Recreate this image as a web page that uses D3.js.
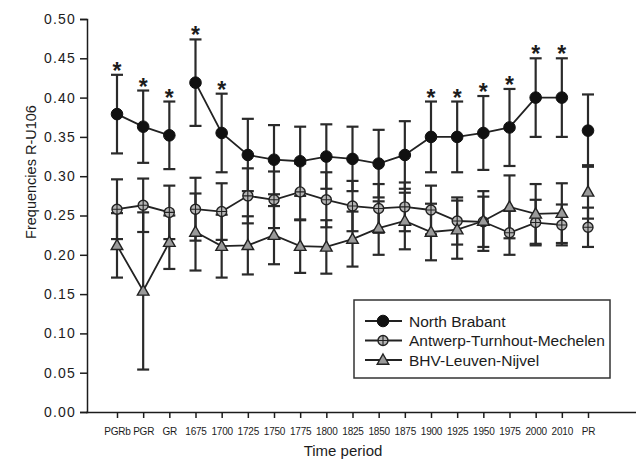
<!DOCTYPE html>
<html>
<head>
<meta charset="utf-8">
<script src="https://cdn.jsdelivr.net/npm/d3@7"></script>
<style>
  body { margin: 0; background: #fff; }
  svg { display: block; }
</style>
</head>
<body>
<div id="chart"></div>
<script>
const categories = ["PGRb", "PGR", "GR", "1675", "1700", "1725", "1750", "1775", "1800", "1825",
    "1850", "1875", "1900", "1925", "1950", "1975", "2000", "2010", "PR"];
// which points are joined by a line
const segments = [0, 0, 0, 1, 1, 1, 1, 1, 1, 1, 1, 1, 1, 1, 1, 1, 1, 1, 2];

const northBrabant = [0.379, 0.363, 0.352, 0.419, 0.355, 0.327, 0.321, 0.319, 0.325, 0.322,
    0.316, 0.327, 0.350, 0.350, 0.355, 0.362, 0.400, 0.400, 0.358];
const northBrabantErr = [0.050, 0.046, 0.043, 0.055, 0.050, 0.046, 0.044, 0.044, 0.041, 0.041,
    0.043, 0.043, 0.045, 0.045, 0.047, 0.049, 0.050, 0.050, 0.046];
const antwerp = [0.258, 0.263, 0.254, 0.258, 0.255, 0.275, 0.270, 0.280, 0.270, 0.262,
    0.259, 0.261, 0.257, 0.243, 0.242, 0.228, 0.241, 0.238, 0.235];
const antwerpErr = [0.038, 0.034, 0.034, 0.040, 0.036, 0.035, 0.036, 0.036, 0.035, 0.032,
    0.031, 0.031, 0.031, 0.030, 0.032, 0.028, 0.029, 0.026, 0.025];
const bhv = [0.212, 0.154, 0.216, 0.229, 0.211, 0.212, 0.225, 0.211, 0.210, 0.220,
    0.234, 0.243, 0.229, 0.232, 0.243, 0.261, 0.252, 0.253, 0.280];
const bhvErr = [0.041, 0.100, 0.034, 0.049, 0.040, 0.037, 0.037, 0.034, 0.034, 0.035,
    0.034, 0.036, 0.036, 0.037, 0.038, 0.040, 0.038, 0.038, 0.034];
// asterisks above North Brabant
const significant = [1, 1, 1, 1, 1, 0, 0, 0, 0, 0, 0, 0, 1, 1, 1, 1, 1, 1, 0];

const yTicks = [0, 0.05, 0.10, 0.15, 0.20, 0.25, 0.30, 0.35, 0.40, 0.45, 0.50];

const seriesNames = ["North Brabant", "Antwerp-Turnhout-Mechelen", "BHV-Leuven-Nijvel"];

const width = 638, height = 463;
const ink = "#1c1c1c";

const svg = d3.select("#chart").append("svg")
    .attr("width", width)
    .attr("height", height);

const x = d3.scalePoint()
    .domain(categories)
    .range([117, 588]);

const y = d3.scaleLinear()
    .domain([0, 0.5])
    .range([412, 19]);

// y axis
const yAxis = svg.append("g")
    .attr("transform", "translate(87,0)")
    .call(d3.axisLeft(y).tickValues(yTicks).tickFormat(d3.format(".2f")).tickSize(7).tickPadding(4));
yAxis.select(".domain").attr("stroke", ink).attr("stroke-width", 1.5);
yAxis.selectAll(".tick line").attr("stroke", ink).attr("stroke-width", 1.5);
yAxis.selectAll(".tick text")
    .attr("fill", ink)
    .style("font-family", "'Liberation Sans', Arial, sans-serif")
    .style("font-size", "14px")
    .style("letter-spacing", "1.2px");

// x axis
svg.append("line")
    .attr("x1", 86).attr("x2", 636)
    .attr("y1", 412.5).attr("y2", 412.5)
    .attr("stroke", ink).attr("stroke-width", 1.5);
const xAxis = svg.append("g")
    .attr("transform", "translate(0,412)")
    .call(d3.axisBottom(x).tickSize(6).tickPadding(10));
xAxis.select(".domain").remove();
xAxis.selectAll(".tick line").attr("stroke", ink).attr("stroke-width", 1.5);
xAxis.selectAll(".tick text")
    .attr("fill", ink)
    .style("font-family", "'Liberation Sans Narrow', 'Arial Narrow', sans-serif")
    .style("font-size", "10px")
    .style("letter-spacing", "-0.2px");

svg.append("text")
    .attr("x", 343).attr("y", 456)
    .attr("text-anchor", "middle")
    .attr("fill", ink)
    .style("font-family", "'Liberation Sans', Arial, sans-serif")
    .style("font-size", "15px")
    .text("Time period");

svg.append("text")
    .attr("transform", "translate(36,172) rotate(-90)")
    .attr("text-anchor", "middle")
    .attr("fill", ink)
    .style("font-family", "'Liberation Sans', Arial, sans-serif")
    .style("font-size", "14.5px")
    .text("Frequencies R-U106");

const series = [
    { name: seriesNames[0], values: northBrabant, err: northBrabantErr, shape: "dot" },
    { name: seriesNames[1], values: antwerp, err: antwerpErr, shape: "cross" },
    { name: seriesNames[2], values: bhv, err: bhvErr, shape: "tri" }
];

function drawMarker(g, shape) {
    if (shape === "dot") {
        g.append("circle").attr("r", 5.8).attr("fill", "#111").attr("stroke", "#111");
    } else if (shape === "cross") {
        g.append("circle").attr("r", 5).attr("fill", "#b5b5b5").attr("stroke", "#222").attr("stroke-width", 1.4);
        g.append("path").attr("d", "M-5,0H5M0,-5V5").attr("stroke", "#222").attr("stroke-width", 1.1);
    } else {
        g.append("path").attr("d", "M0,-6L5.8,4.2L-5.8,4.2Z")
            .attr("fill", "#9a9a9a").attr("stroke", "#222").attr("stroke-width", 1.4);
    }
}

const line = d3.line().x(d => x(d.cat)).y(d => y(d.v));

// error bars, drawn behind lines and markers
series.forEach(s => {
    const g = svg.append("g").attr("stroke", "#2a2a2a").attr("stroke-width", 2.2);
    s.values.forEach((v, i) => {
        const cx = x(categories[i]);
        g.append("line").attr("x1", cx).attr("x2", cx)
            .attr("y1", y(v - s.err[i])).attr("y2", y(v + s.err[i]));
        [v - s.err[i], v + s.err[i]].forEach(e => {
            g.append("line").attr("x1", cx - 6).attr("x2", cx + 6)
                .attr("y1", y(e)).attr("y2", y(e));
        });
    });
});

series.forEach(s => {
    const pts = s.values.map((v, i) => ({ cat: categories[i], v: v, seg: segments[i] }));
    d3.groups(pts, d => d.seg).forEach(([, segPts]) => {
        if (segPts.length < 2) return;
        svg.append("path")
            .attr("d", line(segPts))
            .attr("fill", "none")
            .attr("stroke", "#222")
            .attr("stroke-width", 1.8);
    });
    pts.forEach(p => {
        const g = svg.append("g").attr("transform", `translate(${x(p.cat)},${y(p.v)})`);
        drawMarker(g, s.shape);
    });
});

// significance asterisks
svg.append("g").selectAll("text")
    .data(categories.filter((c, i) => significant[i]))
    .join("text")
    .attr("x", d => x(d))
    .attr("y", d => {
        const i = categories.indexOf(d);
        return y(northBrabant[i] + northBrabantErr[i]) + 4;
    })
    .attr("text-anchor", "middle")
    .attr("fill", ink)
    .style("font-family", "'Liberation Sans', Arial, sans-serif")
    .style("font-size", "23px")
    .style("font-weight", "bold")
    .text("*");

// legend
const legend = svg.append("g").attr("transform", "translate(354,300)");
legend.append("rect")
    .attr("width", 256).attr("height", 78)
    .attr("fill", "#fff").attr("stroke", "#333").attr("stroke-width", 1.5);
series.forEach((s, i) => {
    const row = legend.append("g").attr("transform", `translate(0,${21 + i * 19.5})`);
    row.append("line").attr("x1", 11).attr("x2", 48)
        .attr("stroke", "#222").attr("stroke-width", 1.8);
    drawMarker(row.append("g").attr("transform", "translate(29,0)"), s.shape);
    row.append("text")
        .attr("x", 55).attr("dy", "0.36em")
        .attr("fill", ink)
        .style("font-family", "'Liberation Sans', Arial, sans-serif")
        .style("font-size", "15.5px")
        .text(s.name);
});
</script>
</body>
</html>
